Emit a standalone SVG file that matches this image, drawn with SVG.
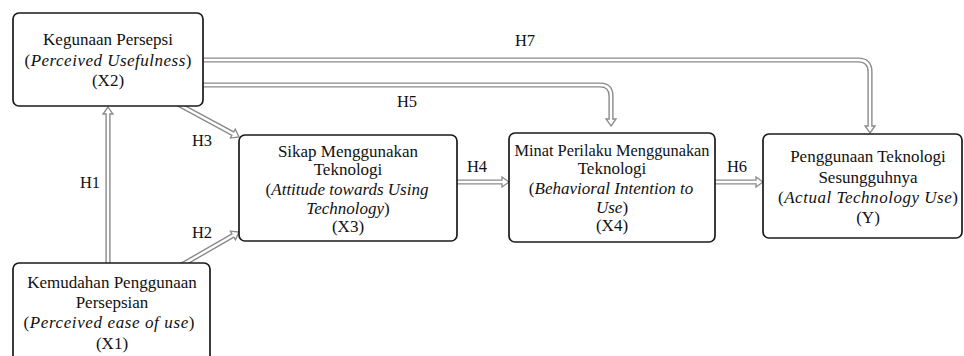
<svg xmlns="http://www.w3.org/2000/svg" xmlns:xlink="http://www.w3.org/1999/xlink" width="964" height="356" viewBox="0 0 964 356">
<style>
.box{fill:#fff;stroke:#1a1a1a;stroke-width:1.7}
.t{font-family:"Liberation Serif","Times New Roman",serif;font-size:17px;fill:#111;text-anchor:middle}
.lbl{font-family:"Liberation Serif","Times New Roman",serif;font-size:16.5px;fill:#111;text-anchor:middle}
.i{font-style:italic}
.out{fill:none;stroke:#8a8a8a;stroke-width:5.2}
.in{fill:none;stroke:#fff;stroke-width:2.4}
.head{fill:#fff;stroke:#8a8a8a;stroke-width:1.3;stroke-linejoin:miter}
</style>
<defs>
<path id="ah" class="head" d="M0,0 L-7,-5 L-7,5 Z"/>
</defs>
<rect width="964" height="356" fill="#fff"/>
<g id="connectors">
<!-- H1 -->
<path class="out" d="M108,265 V114"/>
<use xlink:href="#ah" transform="translate(108,107) rotate(-90)"/>
<path class="in" d="M108,265 V112"/>
<!-- H3 -->
<path class="out" d="M178,104 L232.85,133.65"/>
<use xlink:href="#ah" transform="translate(239,137) rotate(28.5)"/>
<path class="in" d="M178,104 L234.6,134.6"/>
<!-- H2 -->
<path class="out" d="M180,266 L232.93,235.49"/>
<use xlink:href="#ah" transform="translate(239,232) rotate(-29.9)"/>
<path class="in" d="M180,266 L234.66,234.49"/>
<!-- H4 -->
<path class="out" d="M455,182 H502"/>
<use xlink:href="#ah" transform="translate(509,182)"/>
<path class="in" d="M455,182 H504"/>
<!-- H6 -->
<path class="out" d="M713,182 H756"/>
<use xlink:href="#ah" transform="translate(763,182)"/>
<path class="in" d="M713,182 H758"/>
<!-- H5 -->
<path class="out" d="M201,85 H600 Q611,85 611,96 V119"/>
<use xlink:href="#ah" transform="translate(611,126) rotate(90)"/>
<path class="in" d="M201,85 H600 Q611,85 611,96 V121"/>
<!-- H7 -->
<path class="out" d="M201,60 H858 Q870,60 870,72 V126"/>
<use xlink:href="#ah" transform="translate(870,133) rotate(90)"/>
<path class="in" d="M201,60 H858 Q870,60 870,72 V128"/>
<text class="lbl" x="90" y="188">H1</text>
<text class="lbl" x="202" y="238">H2</text>
<text class="lbl" x="202" y="146">H3</text>
<text class="lbl" x="477" y="172">H4</text>
<text class="lbl" x="407" y="107">H5</text>
<text class="lbl" x="737" y="172">H6</text>
<text class="lbl" x="525" y="46">H7</text>
</g>
<g id="X2">
<rect class="box" x="13" y="13" width="190" height="93" rx="6"/>
<text class="t" x="108" y="45">Kegunaan Persepsi</text>
<text class="t" x="108" y="66" textLength="167" lengthAdjust="spacing">(<tspan class="i">Perceived Usefulness</tspan>)</text>
<text class="t" x="108" y="86">(X2)</text>
</g>
<g id="X1">
<rect class="box" x="13" y="263" width="197" height="110" rx="6"/>
<text class="t" x="112" y="288">Kemudahan Penggunaan</text>
<text class="t" x="112" y="308">Persepsian</text>
<text class="t" x="109" y="328" textLength="171" lengthAdjust="spacing">(<tspan class="i">Perceived ease of use</tspan>)</text>
<text class="t" x="112" y="349">(X1)</text>
</g>
<g id="X3">
<rect class="box" x="239" y="135" width="218" height="106" rx="6"/>
<text class="t" x="348" y="157">Sikap Menggunakan</text>
<text class="t" x="348" y="175">Teknologi</text>
<text class="t" x="347" y="195">(<tspan class="i">Attitude towards Using</tspan></text>
<text class="t" x="348" y="214"><tspan class="i">Technology</tspan>)</text>
<text class="t" x="348" y="232">(X3)</text>
</g>
<g id="X4">
<rect class="box" x="509" y="133" width="206" height="109" rx="6"/>
<text class="t" x="612" y="156" textLength="195" lengthAdjust="spacingAndGlyphs">Minat Perilaku Menggunakan</text>
<text class="t" x="612" y="174">Teknologi</text>
<text class="t" x="611" y="194">(<tspan class="i">Behavioral Intention to</tspan></text>
<text class="t" x="612" y="213"><tspan class="i">Use</tspan>)</text>
<text class="t" x="612" y="231">(X4)</text>
</g>
<g id="Y">
<rect class="box" x="763" y="134" width="199" height="104" rx="6"/>
<text class="t" x="868" y="162">Penggunaan Teknologi</text>
<text class="t" x="868" y="183">Sesungguhnya</text>
<text class="t" x="868" y="203" textLength="180" lengthAdjust="spacing">(<tspan class="i">Actual Technology Use</tspan>)</text>
<text class="t" x="868" y="223">(Y)</text>
</g>
</svg>
